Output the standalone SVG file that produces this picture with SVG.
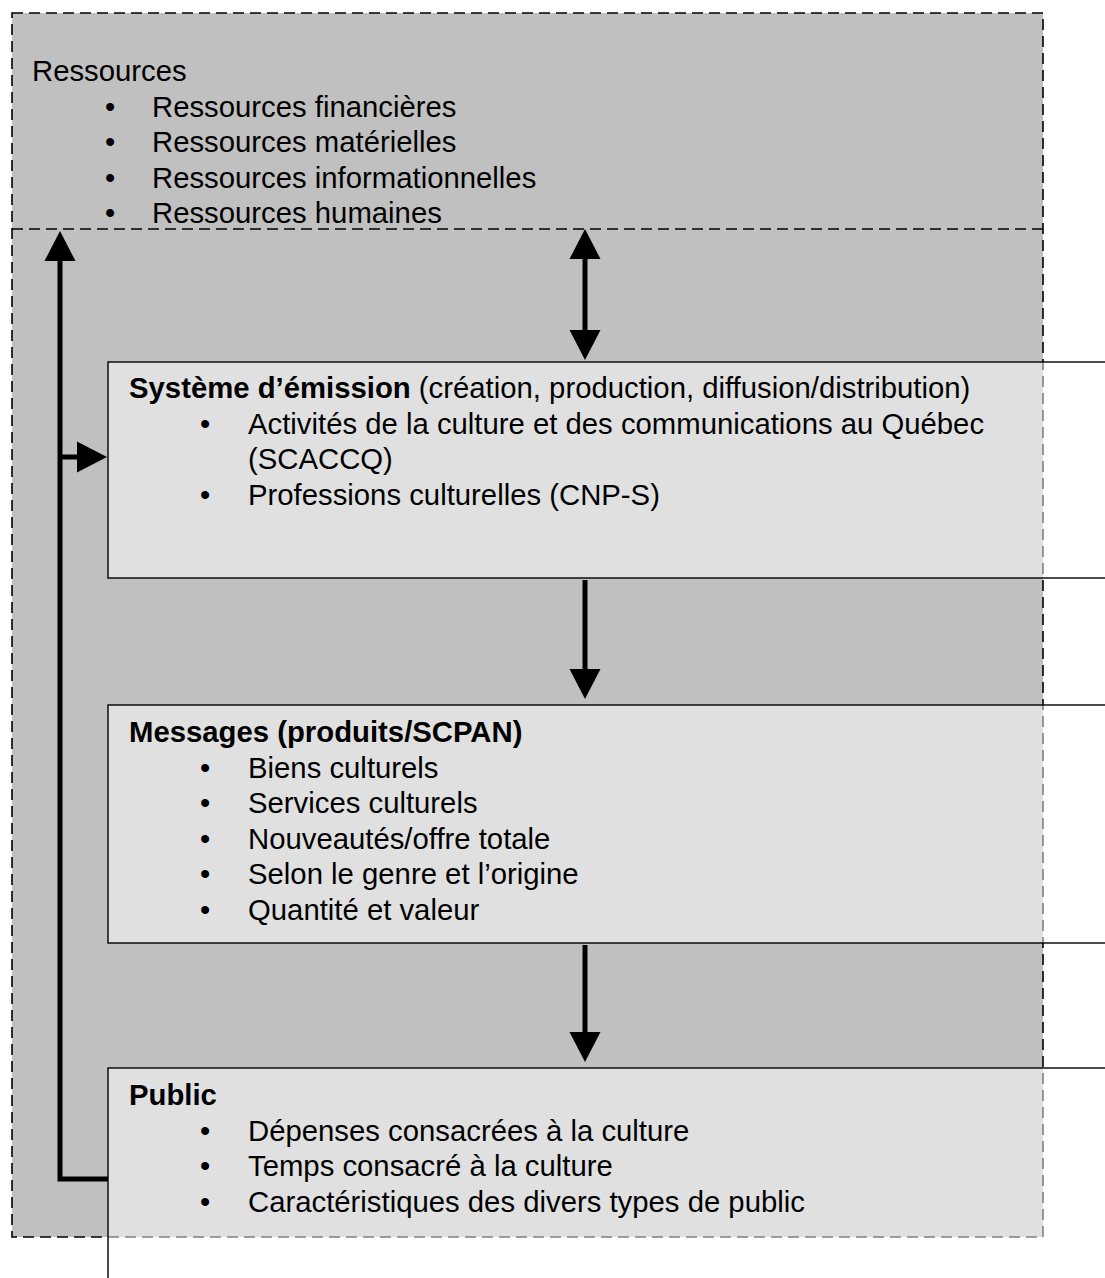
<svg xmlns="http://www.w3.org/2000/svg" width="1105" height="1278" viewBox="0 0 1105 1278">
  <style>
    text { font-family: "Liberation Sans", Arial, sans-serif; font-size: 29.3px; fill: #000; }
    .b { font-weight: bold; }
    .dash { fill: none; stroke: #000; stroke-width: 1.6; stroke-dasharray: 11 6; }
    .box { fill: #fff; fill-opacity: 0.5; stroke: #000; stroke-width: 1.4; }
    .conn { fill: none; stroke: #000; stroke-width: 5; stroke-linejoin: miter; }
  </style>
  <defs>
    <marker id="ah" markerUnits="userSpaceOnUse" markerWidth="31" markerHeight="32" refX="0" refY="15.5" orient="auto-start-reverse" viewBox="0 0 31 31" overflow="visible">
      <path d="M0,0 L30,15.5 L0,31 Z" fill="#000"/>
    </marker>
  </defs>

  <g id="environment">
    <rect x="12" y="13" width="1031" height="1224" fill="#c0c0c0"/>
    <rect class="dash" x="12" y="13" width="1031" height="1224"/>
    <line class="dash" x1="12" y1="229" x2="1043" y2="229"/>
  </g>

  <g id="ressources">
    <text x="32" y="81">Ressources</text>
    <text x="105" y="116.5">•</text><text x="152" y="116.5">Ressources financières</text>
    <text x="105" y="152">•</text><text x="152" y="152">Ressources matérielles</text>
    <text x="105" y="187.5">•</text><text x="152" y="187.5">Ressources informationnelles</text>
    <text x="105" y="223">•</text><text x="152" y="223">Ressources humaines</text>
  </g>

  <g id="systeme-emission">
    <rect class="box" x="108" y="362" width="1010" height="216"/>
    <text x="129" y="398"><tspan class="b">Système d’émission</tspan> (création, production, diffusion/distribution)</text>
    <text x="200" y="433.5">•</text><text x="248" y="433.5">Activités de la culture et des communications au Québec</text>
    <text x="248" y="469">(SCACCQ)</text>
    <text x="200" y="504.5">•</text><text x="248" y="504.5">Professions culturelles (CNP-S)</text>
  </g>

  <g id="messages">
    <rect class="box" x="108" y="705" width="1010" height="238"/>
    <text class="b" x="129" y="742">Messages (produits/SCPAN)</text>
    <text x="200" y="777.5">•</text><text x="248" y="777.5">Biens culturels</text>
    <text x="200" y="813">•</text><text x="248" y="813">Services culturels</text>
    <text x="200" y="848.5">•</text><text x="248" y="848.5">Nouveautés/offre totale</text>
    <text x="200" y="884">•</text><text x="248" y="884">Selon le genre et l’origine</text>
    <text x="200" y="919.5">•</text><text x="248" y="919.5">Quantité et valeur</text>
  </g>

  <g id="public">
    <rect class="box" x="108" y="1068" width="1010" height="230"/>
    <text class="b" x="129" y="1105">Public</text>
    <text x="200" y="1140.5">•</text><text x="248" y="1140.5">Dépenses consacrées à la culture</text>
    <text x="200" y="1176">•</text><text x="248" y="1176">Temps consacré à la culture</text>
    <text x="200" y="1211.5">•</text><text x="248" y="1211.5">Caractéristiques des divers types de public</text>
  </g>

  <g id="connectors">
    <path class="conn" d="M585,259 L585,330" marker-start="url(#ah)" marker-end="url(#ah)"/>
    <path class="conn" d="M585,580 L585,669" marker-end="url(#ah)"/>
    <path class="conn" d="M585,945 L585,1032" marker-end="url(#ah)"/>
    <path class="conn" d="M108,1179 L60,1179 L60,261" marker-end="url(#ah)"/>
    <path class="conn" d="M60,457 L77,457" marker-end="url(#ah)"/>
  </g>
</svg>
